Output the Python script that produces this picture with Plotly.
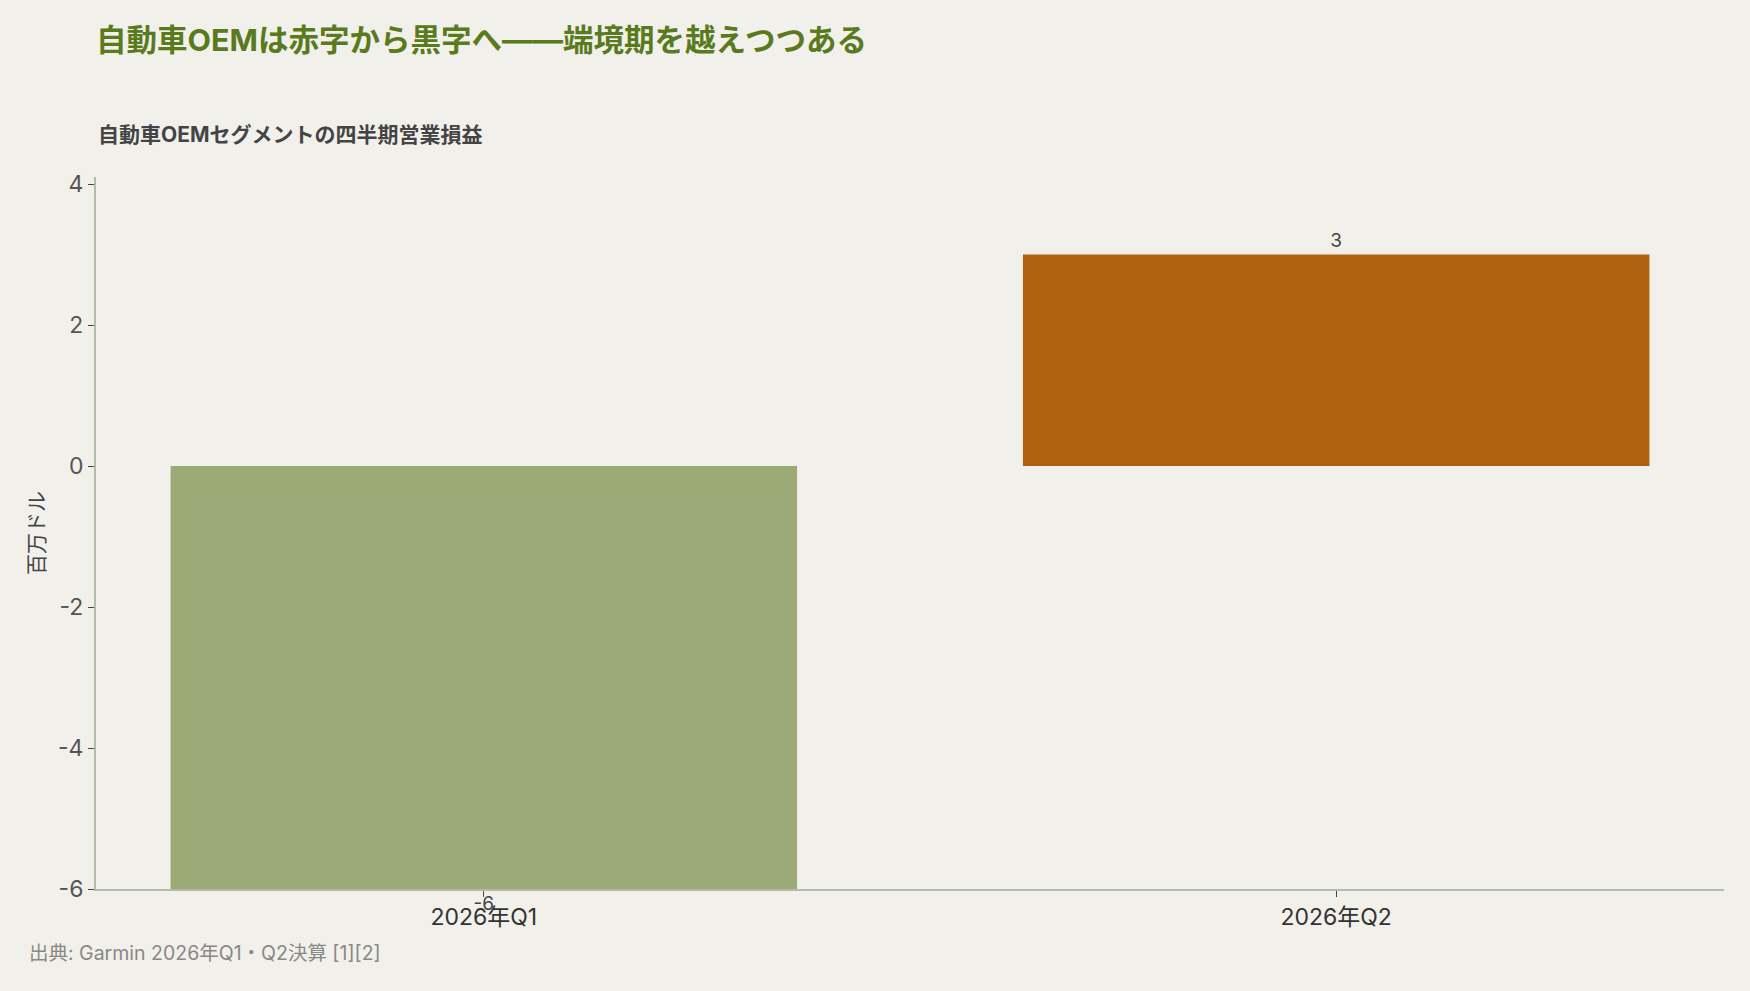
import plotly.graph_objects as go

# 自動車OEMセグメントの四半期営業損益（百万ドル）
quarters = ["2026年Q1", "2026年Q2"]
op_income = [-6, 3]
bar_colors = ["#9caa77", "#b0610f"]
y_ticks = [-6, -4, -2, 0, 2, 4]
y_tick_text = ["-6", "-4", "-2", "0", "2", "4"]

FONT = "Inter, Noto Sans CJK JP"
BG = "#f2f0ea"

fig = go.Figure()
fig.add_trace(go.Bar(
    x=quarters,
    y=op_income,
    marker=dict(color=bar_colors, line=dict(width=0)),
    text=[str(v) for v in op_income],
    textposition="outside",
    textfont=dict(family=FONT, size=19, color="#444444"),
    cliponaxis=False,
    showlegend=False,
))

fig.update_layout(
    width=1750,
    height=991,
    paper_bgcolor=BG,
    plot_bgcolor=BG,
    margin=dict(l=96, r=26, t=177, b=102),
    bargap=0.265,
    font=dict(family=FONT, color="#444444"),
    title=dict(
        text="<b>自動車OEMは赤字から黒字へ——端境期を越えつつある</b>",
        x=0, xref="paper", xanchor="left",
        y=1 - 40 / 991, yref="container", yanchor="middle",
        font=dict(family=FONT, size=30.5, color="#5a7a1e"),
    ),
    xaxis=dict(
        range=[-0.455, 1.455],
        showline=True, linecolor="#b4bca8", linewidth=2,
        ticks="outside", ticklen=6, tickcolor="#444444",
        tickfont=dict(family=FONT, size=23, color="#333333"),
        showgrid=False,
    ),
    yaxis=dict(
        range=[-6, 4.1],
        tickvals=y_ticks,
        ticktext=y_tick_text,
        showline=True, linecolor="#b4bca8", linewidth=2,
        ticks="outside", ticklen=6, tickcolor="#444444",
        tickfont=dict(family=FONT, size=23, color="#555555"),
        showgrid=False, zeroline=False,
        title=dict(text="百万ドル", font=dict(family=FONT, size=21, color="#444444"), standoff=8),
    ),
    annotations=[
        dict(
            text="<b>自動車OEMセグメントの四半期営業損益</b>",
            x=0, xref="paper", xanchor="left",
            y=(889 - 134) / 712, yref="paper", yanchor="middle",
            showarrow=False,
            font=dict(family=FONT, size=21, color="#444444"),
        ),
        dict(
            text="出典: Garmin 2026年Q1・Q2決算 [1][2]",
            x=(27 - 96) / 1628, xref="paper", xanchor="left",
            y=(889 - 953) / 712, yref="paper", yanchor="middle",
            showarrow=False,
            font=dict(family=FONT, size=19.5, color="#888888"),
        ),
    ],
)

fig.write_html(
    "out.html",
    config={"displayModeBar": False},
    post_script="document.body.style.margin='0';",
)
